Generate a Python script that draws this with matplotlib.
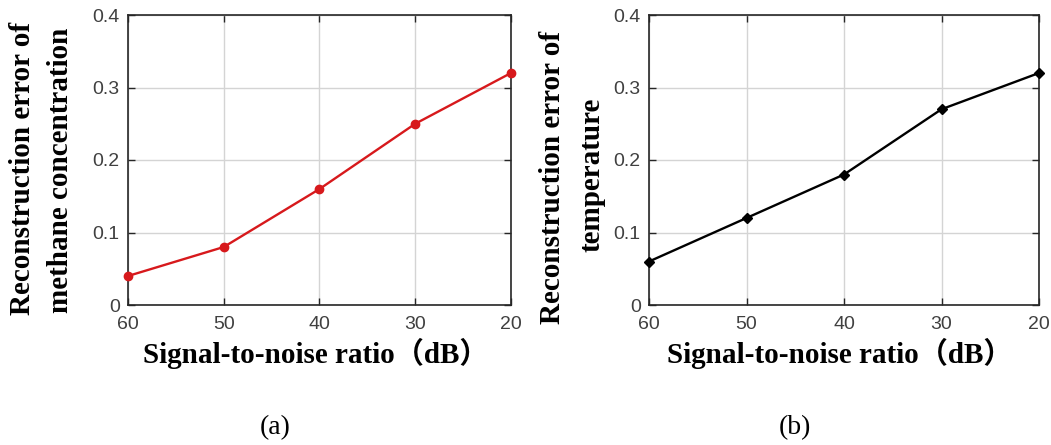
import matplotlib
matplotlib.use("Agg")
import matplotlib.pyplot as plt

snr_db = [60, 50, 40, 30, 20]
methane_error = [0.04, 0.08, 0.16, 0.25, 0.32]
temperature_error = [0.06, 0.12, 0.18, 0.27, 0.32]
y_ticks = [0, 0.1, 0.2, 0.3, 0.4]
y_tick_labels = ["0", "0.1", "0.2", "0.3", "0.4"]
x_label = "Signal-to-noise ratio（dB）"
y_labels = ["Reconstruction error of\nmethane concentration",
            "Reconstruction error of\ntemperature"]
panel_tags = ["(a)", "(b)"]

W, H = 1051, 445
fig = plt.figure(figsize=(W / 100, H / 100), dpi=100)

label_font = dict(family=["Liberation Serif", "Noto Sans CJK SC"], weight="bold", size=21)
tick_color = "#404040"


def make_axes(left_px, right_px, top_px=15, bottom_px=305):
    return fig.add_axes([left_px / W, 1 - bottom_px / H,
                         (right_px - left_px) / W, (bottom_px - top_px) / H])


panels = [
    dict(ax=make_axes(128, 511), y=methane_error, color="#d7191c", marker="o", ms=6,
         ylab=[(23, 168), (61, 170)], xlab_x=316, tag_x=275),
    dict(ax=make_axes(649, 1039), y=temperature_error, color="black", marker="D", ms=5,
         ylab=[(553, 177), (592, 175)], xlab_x=840, tag_x=795),
]

for p, ylab, tag in zip(panels, y_labels, panel_tags):
    ax = p["ax"]
    ax.plot(snr_db, p["y"], color=p["color"], lw=1.7, marker=p["marker"],
            ms=p["ms"], mfc=p["color"], mec=p["color"], zorder=3, clip_on=False)
    ax.set_xlim(60, 20)
    ax.set_ylim(0, 0.4)
    ax.set_xticks(snr_db)
    ax.set_yticks(y_ticks)
    ax.set_yticklabels(y_tick_labels)
    ax.grid(True, color="#d4d4d4", lw=1.0)
    ax.set_axisbelow(True)
    for s in ax.spines.values():
        s.set_color("#262626")
        s.set_linewidth(1.2)
    ax.tick_params(direction="in", top=True, right=True, length=5, width=1.0,
                   labelsize=14, labelcolor=tick_color, color="#262626")
    ax.tick_params(axis="x", pad=8)
    ax.tick_params(axis="y", pad=6)
    for lab in ax.get_xticklabels() + ax.get_yticklabels():
        lab.set_family("Liberation Sans")
    fig.text(p["xlab_x"] / W, 1 - 353 / H, x_label, ha="center", va="center", **label_font)
    # two-line y label, each line centred on its own column
    for line, (xpx, ypx) in zip(ylab.split("\n"), p["ylab"]):
        fig.text(xpx / W, 1 - ypx / H, line, rotation=90, ha="center", va="center",
                 **label_font)
    fig.text(p["tag_x"] / W, 1 - 428 / H, tag, ha="center", va="center",
             family="Liberation Serif", size=20)

fig.savefig("out.png", dpi=100)
